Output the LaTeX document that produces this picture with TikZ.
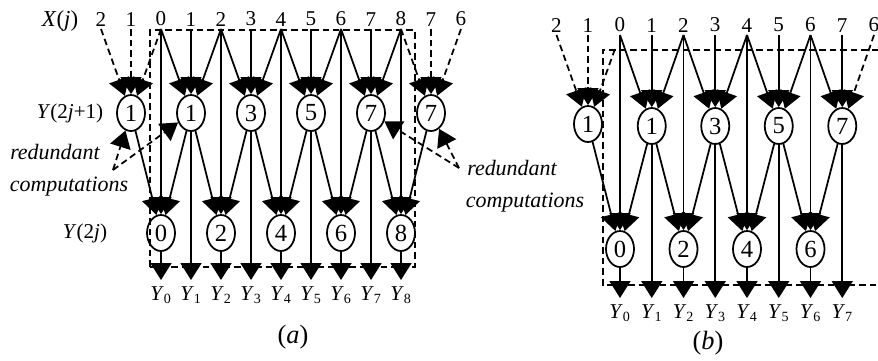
\documentclass[tikz,border=0pt]{standalone}
\usepackage{fontspec}
\setmainfont{Liberation Serif}
\usepackage{tikz}
\usetikzlibrary{shapes.geometric, arrows.meta}
\tikzstyle{every node}=[font=\fontsize{12}{12}\selectfont]
\tikzstyle{sample} = [inner sep=1.5pt, anchor=south]
\tikzstyle{coef} = [ellipse, draw=black, line width=1pt, minimum width=0.56cm, minimum height=0.72cm, inner sep=0pt, font=\fontsize{14}{14}\selectfont]
\tikzstyle{outlbl} = [anchor=north]
\tikzstyle{note} = [font=\fontsize{12.5}{13}\selectfont\itshape]
\tikzstyle{arrow} = [line width=1pt, -{Triangle[length=3.4mm, width=4.2mm]}]
\tikzstyle{dasharrow} = [arrow, dash pattern=on 1.3mm off 0.8mm]
\tikzstyle{bigrect} = [rectangle, draw=black, line width=1pt, dash pattern=on 1.3mm off 0.8mm]
\begin{document}
\begin{tikzpicture}[x=0.02cm, y=-0.02cm]
  \useasboundingbox (0,0) rectangle (878,360);
  % (a)
  \node (boxa) [bigrect, minimum width=5.3cm, minimum height=4.74cm] at (282.5,148.5) {};
  \node (xj) [anchor=base, font=\fontsize{13}{13}\selectfont] at (60,26) {\textit{X}(\textit{j})};
  \node (yodd) at (70,113) {\textit{Y}(2\textit{j}+1)};
  \node (yeven) at (85,233) {\textit{Y}(2\textit{j})};
  \node (capa) [font=\fontsize{15}{15}\selectfont] at (293,337) {(\textit{a})};

  \foreach \i in {0,...,8}
    \node (xa\i) [sample] at ({161+30*\i},29) {\i};
  \node (xaL2) [sample] at (101,29) {2};
  \node (xaL1) [sample] at (131,29) {1};
  \node (xaR7) [sample] at (431,29) {7};
  \node (xaR6) [sample] at (461,29) {6};

  \foreach \i in {1,3,5,7}
    \node (oa\i) [coef] at ({161+30*\i},113) {\i};
  \node (oaL) [coef] at (131,113) {1};
  \node (oaR) [coef] at (431,113) {7};
  \foreach \i in {0,2,...,8}
    \node (ea\i) [coef] at ({161+30*\i},233) {\i};
  \foreach \i in {0,...,8}
    \node (ya\i) [outlbl] at ({161+30*\i},280) {\textit{Y}\textsubscript{\i}};

  \foreach \i/\l/\r in {1/0/2, 3/2/4, 5/4/6, 7/6/8} {
    \draw [arrow] (xa\l.south) -- (oa\i);
    \draw [arrow] (xa\i.south) -- (oa\i);
    \draw [arrow] (xa\r.south) -- (oa\i);
    \draw [arrow] (oa\i) -- (ea\l);
    \draw [arrow] (oa\i) -- (ea\r);
    \draw [arrow] (oa\i) -- (ya\i);
  }
  \foreach \i in {0,2,...,8} {
    \draw [arrow] (xa\i.south) -- (ea\i);
    \draw [arrow] (ea\i) -- (ya\i);
  }
  \draw [dasharrow] (xaL2.south) -- (oaL);
  \draw [dasharrow] (xaL1.south) -- (oaL);
  \draw [dasharrow] (xa0.south) -- (oaL);
  \draw [arrow] (oaL) -- (ea0);
  \draw [dasharrow] (xa8.south) -- (oaR);
  \draw [dasharrow] (xaR7.south) -- (oaR);
  \draw [dasharrow] (xaR6.south) -- (oaR);
  \draw [arrow] (oaR) -- (ea8);

  \node (redl) [note] at (55,152) {redundant};
  \node (coml) [note] at (69,187) {computations};
  \coordinate (pl) at (113,170);
  \draw [dasharrow] (pl) -- (oaL);
  \draw [dasharrow] (pl) -- (oa1);
  \node (redr) [note] at (512,168) {redundant};
  \node (comr) [note] at (525,203) {computations};
  \coordinate (pr) at (459,168);
  \draw [dasharrow] (pr) -- (oaR);
  \draw [dasharrow] (pr) -- (oa7);

  % (b)
  \draw [bigrect] (878,50) -| (603,285) -- (878,285);
  \node (capb) [font=\fontsize{15}{15}\selectfont] at (708,343) {(\textit{b})};

  \foreach \i in {0,...,7}
    \node (xb\i) [sample] at ({620+31.75*\i},35) {\i};
  \node (xbL2) [sample] at (556.5,35) {2};
  \node (xbL1) [sample] at (588,35) {1};
  \node (xbR6) [sample] at (874,35) {6};

  \foreach \i in {1,3,5,7}
    \node (ob\i) [coef] at ({620+31.75*\i},126) {\i};
  \node (obL) [coef] at (588,124) {1};
  \foreach \i in {0,2,4,6}
    \node (eb\i) [coef] at ({620+31.75*\i},249) {\i};
  \foreach \i in {0,...,7}
    \node (yb\i) [outlbl] at ({620+31.75*\i},298) {\textit{Y}\textsubscript{\i}};

  \foreach \i/\l/\r in {1/0/2, 3/2/4, 5/4/6} {
    \draw [arrow] (xb\l.south) -- (ob\i);
    \draw [arrow] (xb\i.south) -- (ob\i);
    \draw [arrow] (xb\r.south) -- (ob\i);
    \draw [arrow] (ob\i) -- (eb\l);
    \draw [arrow] (ob\i) -- (eb\r);
    \draw [arrow] (ob\i) -- (yb\i);
  }
  \draw [arrow] (xb6.south) -- (ob7);
  \draw [arrow] (xb7.south) -- (ob7);
  \draw [dasharrow] (xbR6.south) -- (ob7);
  \draw [arrow] (ob7) -- (eb6);
  \draw [arrow] (ob7) -- (yb7);
  \foreach \i in {0,2,4,6} {
    \draw [arrow] (xb\i.south) -- (eb\i);
    \draw [arrow] (eb\i) -- (yb\i);
  }
  \draw [dasharrow] (xbL2.south) -- (obL);
  \draw [dasharrow] (xbL1.south) -- (obL);
  \draw [dasharrow, shorten <=3mm] (xb0.south) -- (obL);
  \draw [arrow] (obL) -- (eb0);
\end{tikzpicture}
\end{document}
